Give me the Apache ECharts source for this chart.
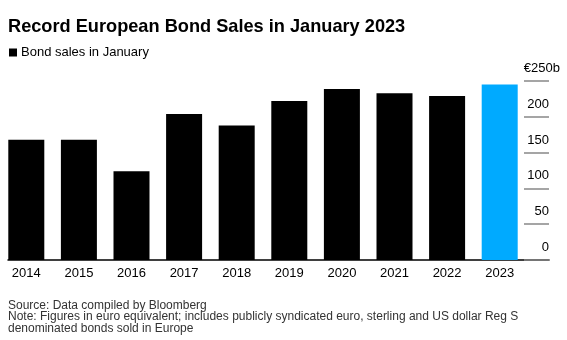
<!DOCTYPE html>
<html>
<head>
<meta charset="utf-8">
<script src="https://cdn.jsdelivr.net/npm/echarts@6/dist/echarts.min.js"></script>
<style>
  html, body { margin: 0; padding: 0; background: #fff; }
  #chart { width: 567px; height: 340px; }
</style>
</head>
<body>
<div id="chart"></div>
<script>
// January bond sales, EUR billions
const years = ['2014', '2015', '2016', '2017', '2018', '2019', '2020', '2021', '2022', '2023'];
const sales = [168, 168, 124, 204, 188, 222, 239, 233, 229, 245];
const highlightYear = '2023';
const yTicks = [0, 50, 100, 150, 200, 250];

const FONT = '"Liberation Sans", Arial, sans-serif';
const BLACK = '#000000';
const BLUE = '#00aaff';

const chart = echarts.init(document.getElementById('chart'), null, { renderer: 'canvas' });

const barData = years.map((y, i) => ({
  value: sales[i],
  itemStyle: { color: y === highlightYear ? BLUE : BLACK }
}));

chart.setOption({
  animation: false,
  backgroundColor: '#fff',
  textStyle: { fontFamily: FONT },
  title: [
    {
      text: 'Record European Bond Sales in January 2023',
      left: 8, top: 17, padding: 0,
      textStyle: { fontFamily: FONT, fontSize: 18.2, fontWeight: 'bold', color: '#000', lineHeight: 20 }
    },
    {
      text: 'Source: Data compiled by Bloomberg\nNote: Figures in euro equivalent; includes publicly syndicated euro, sterling and US dollar Reg S\ndenominated bonds sold in Europe',
      left: 8, top: 300, padding: 0,
      textStyle: { fontFamily: FONT, fontSize: 12, fontWeight: 'normal', color: '#333', lineHeight: 11.3 }
    }
  ],
  legend: {
    left: 9, top: 46, padding: 0,
    icon: 'rect', itemWidth: 8, itemHeight: 8, itemGap: 10,
    textStyle: { fontFamily: FONT, fontSize: 13, color: '#000', padding: [0, 0, 0, -1] },
    data: [{ name: 'Bond sales in January', itemStyle: { color: BLACK } }]
  },
  grid: [
    // bars
    { left: 0, right: 41, top: 81, bottom: 80 },
    // axis frame: baseline and right-hand scale
    { left: 8, right: 18, top: 81, bottom: 80 }
  ],
  xAxis: [
    {
      type: 'category', gridIndex: 0, data: years,
      axisLine: { show: false }, axisTick: { show: false },
      axisLabel: { fontFamily: FONT, fontSize: 13, color: '#000', margin: 7 }
    },
    {
      type: 'category', gridIndex: 1, data: years,
      axisLine: { show: true, lineStyle: { color: '#000', width: 1.5 } },
      axisTick: { show: false }, axisLabel: { show: false }
    }
  ],
  yAxis: [
    { type: 'value', gridIndex: 0, min: 0, max: 250, show: false },
    {
      type: 'value', gridIndex: 1, position: 'right',
      min: yTicks[0], max: yTicks[yTicks.length - 1], interval: 50,
      axisLine: { show: false },
      splitLine: { show: false },
      axisTick: { show: true, inside: true, length: 25, lineStyle: { color: '#888', width: 1.5 } },
      axisLabel: {
        inside: true, margin: 0,
        fontFamily: FONT, fontSize: 13, color: '#000',
        verticalAlign: 'bottom', lineHeight: 15, padding: [0, 0, 5, 0],
        formatter: v => v === 250 ? '{top|€' + v + 'b}' : String(v),
        rich: { top: { fontFamily: FONT, fontSize: 13, color: '#000', lineHeight: 15, padding: [0, -11, 0, 0] } }
      }
    }
  ],
  series: [
    {
      name: 'Bond sales in January',
      type: 'bar', xAxisIndex: 0, yAxisIndex: 0,
      barWidth: 36,
      itemStyle: { color: BLACK },
      data: barData
    }
  ]
});
</script>
</body>
</html>
